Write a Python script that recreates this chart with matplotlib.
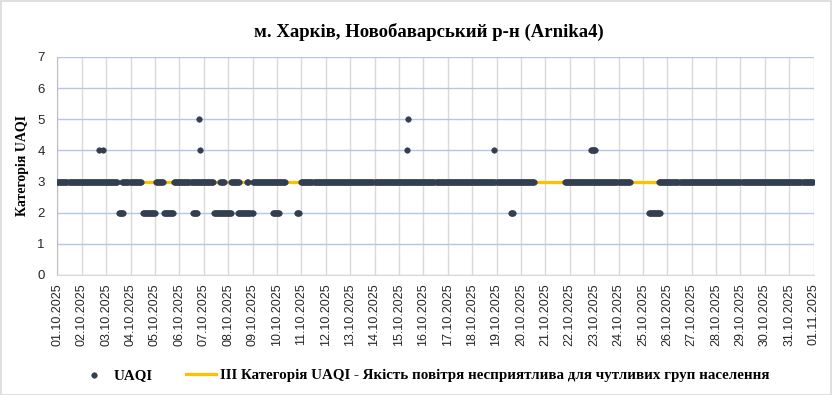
import numpy as np
import pandas as pd
import matplotlib
matplotlib.use("Agg")
import matplotlib.pyplot as plt
import matplotlib.dates as mdates
from matplotlib.patches import Rectangle

# --- Дані (години від 01.10.2025 00:00) ---
start = pd.Timestamp("2025-10-01")
runs3 = [(0, 59), (64, 82), (97, 104), (115, 153), (160, 164), (171, 179),
         (187, 188), (192, 224), (240, 469), (499, 563), (592, 743)]
runs2 = [(61, 65), (84, 96), (105, 114), (133, 137), (154, 171), (178, 192),
         (212, 218), (236, 238), (446, 448), (582, 593)]
runs4 = [(41, 41), (45, 45), (140, 140), (344, 344), (430, 430), (525, 529)]
runs5 = [(139, 139), (345, 345)]
level_iii = 3          # ІІІ категорія UAQI
n_days = 31

# розгортаємо відрізки в погодинні точки
hours, vals = [], []
for runs, v in [(runs2, 2), (runs3, 3), (runs4, 4), (runs5, 5)]:
    for a, b in runs:
        for h in range(a, b + 1):
            hours.append(h)
            vals.append(v)
times = start + pd.to_timedelta(hours, unit="h")

# --- Графік ---
fig = plt.figure(figsize=(8.32, 3.95), dpi=100)
ax = fig.add_axes([0.0689, 0.3038, 0.9091, 0.5519])

t0 = start
t1 = start + pd.Timedelta(days=n_days)
ax.plot([t0, t1], [level_iii, level_iii], color="#FFC000", lw=2.3, zorder=2,
        label="ІІІ Категорія UAQI - Якість повітря несприятлива для чутливих груп населення")
ax.scatter(times, vals, s=16, color="#333F50", edgecolors="#333F50", linewidths=0.4,
           zorder=3, label="UAQI")

ax.set_xlim(t0, t1)
ax.set_ylim(0, 7)
ax.set_yticks(range(0, 8))
ax.xaxis.set_major_locator(mdates.DayLocator())
ax.xaxis.set_major_formatter(mdates.DateFormatter("%d.%m.%Y"))
plt.setp(ax.get_xticklabels(), rotation=90, fontsize=9, family="Liberation Sans", color="#262626")
plt.setp(ax.get_yticklabels(), fontsize=9.5, family="Liberation Sans", color="#262626")
ax.tick_params(axis="both", length=0, pad=6)
ax.tick_params(axis="y", pad=9)

# сітка
ax.grid(axis="x", color="#D9D9D9", lw=1.0)
ax.grid(axis="y", color="#B4C7E7", lw=1.0)
ax.set_axisbelow(True)
for s in ["top", "right"]:
    ax.spines[s].set_visible(False)
ax.spines["left"].set_color("#BFBFBF")
ax.spines["bottom"].set_color("#D9D9D9")

ax.set_ylabel("Категорія UAQI", fontsize=10, family="Liberation Serif", weight="bold", labelpad=6)
fig.text(0.515, 0.919, "м. Харків, Новобаварський р-н (Arnika4)", ha="center", va="center",
         fontsize=13.5, family="Liberation Serif", weight="bold")

h, l = ax.get_legend_handles_labels()
leg = fig.legend(h[::-1], l[::-1], loc="center", bbox_to_anchor=(0.51, 0.05), ncol=2, frameon=False,
                 prop={"family": "Liberation Serif", "weight": "bold", "size": 10.8},
                 handlelength=2.0, columnspacing=2.2, handletextpad=0.3, markerscale=1.0)

# рамка навколо рисунка
fig.patches.append(Rectangle((0.001, 0.001), 0.998, 0.997, transform=fig.transFigure,
                             fill=False, edgecolor="#D9D9D9", lw=1.2))

fig.savefig("out.png", dpi=100)
